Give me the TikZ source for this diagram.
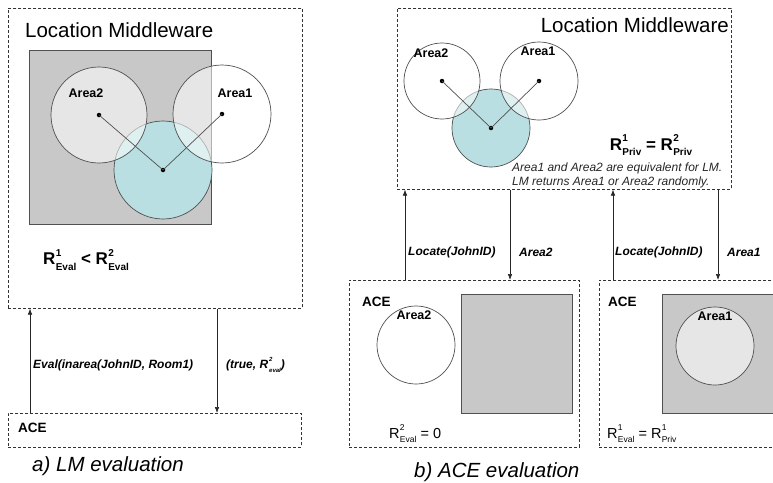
\documentclass[tikz,border=0pt]{standalone}
\usepackage{fontspec}
\setmainfont{Liberation Sans}
\usetikzlibrary{arrows.meta}
\definecolor{boxgray}{HTML}{C8C8C8}
\definecolor{cyanfill}{HTML}{B9DFE2}
\definecolor{edge}{HTML}{505050}
% R with super/subscript
\newcommand\RRx[3][8.5]{R\kern0.3pt\rlap{\raisebox{0.5em}{\fontsize{#1}{#1}\selectfont #2}}\raisebox{-0.32em}{\fontsize{#1}{#1}\selectfont #3}}
\tikzset{
  dashbox/.style={draw=black!80, line width=0.6pt, dash pattern=on 3pt off 2pt, anchor=north west, inner sep=0pt},
  grayrect/.style={draw=edge, fill=boxgray, line width=0.7pt},
  areacirc/.style={draw=edge, fill=white, fill opacity=0.55, line width=0.7pt},
  cyancirc/.style={draw=edge, fill=cyanfill, line width=0.7pt},
  dot/.style={circle, fill=black, inner sep=0pt, minimum size=4.5pt},
  spoke/.style={draw=edge, line width=0.7pt},
  arr/.style={draw=black!85, line width=0.6pt, -{Latex[length=6pt,width=4.5pt]}},
  title/.style={font=\fontsize{20.5}{24}\selectfont, inner sep=0pt},
  arealbl/.style={font=\fontsize{12.5}{15}\selectfont\bfseries, inner sep=0pt},
  msg/.style={font=\fontsize{12}{14}\selectfont\bfseries\itshape, inner sep=0pt, anchor=west},
  acelbl/.style={font=\fontsize{13.5}{16}\selectfont\bfseries, inner sep=0pt, anchor=west},
  formula/.style={font=\fontsize{14.5}{17}\selectfont, inner sep=0pt},
  bigformula/.style={font=\fontsize{17}{20}\selectfont\bfseries, inner sep=0pt},
  caption/.style={font=\fontsize{20.5}{24}\selectfont\itshape, inner sep=0pt, anchor=west},
  note/.style={font=\fontsize{12}{14}\selectfont\itshape, inner sep=0pt, anchor=west, text=black!85},
}
\begin{document}
\begin{tikzpicture}[x=1pt,y=-1pt]
\clip (0,0) rectangle (773,482);
\fill[white] (0,0) rectangle (773,482);

% ================= Panel a =================
\node[dashbox, minimum width=294pt, minimum height=300pt] (lmA) at (8,8) {};
\node[title, anchor=west] (lmAtitle) at (25,30) {Location Middleware};
\draw[grayrect] (29,50) rectangle (211,224);
\draw[cyancirc] (163,170) circle (49);
\draw[areacirc] (99,115) circle (48);
\draw[areacirc] (222,114) circle (49);
\node[dot] (cA) at (163,170) {};
\node[dot] (a2A) at (99,115) {};
\node[dot] (a1A) at (222,114) {};
\draw[spoke] (a2A.center) -- (cA.center) -- (a1A.center);
\node[arealbl] (a2Albl) at (86,93) {Area2};
\node[arealbl] (a1Albl) at (235,93) {Area1};
\node[bigformula, anchor=west] (fA) at (43,260) {\RRx[10]{1}{Eval} < \RRx[10]{2}{Eval}};

\node[dashbox, minimum width=293pt, minimum height=34pt] (aceA) at (8,413) {};
\node[acelbl] (aceAlbl) at (18,428) {ACE};
\coordinate (xA1) at (30,0);
\coordinate (xA2) at (217,0);
\draw[arr] (aceA.north -| xA1) -- (lmA.south -| xA1);
\draw[arr] (lmA.south -| xA2) -- (aceA.north -| xA2);
\node[msg] (evalmsg) at (33,365) {Eval(inarea(JohnID, Room1)};
\node[msg] (truemsg) at (226,365) {(true, R\kern1pt\rlap{\raisebox{0.55em}{\fontsize{6}{6}\selectfont 2}}\raisebox{-0.35em}{\fontsize{6}{6}\selectfont eval})};
\node[caption] (capA) at (32,466) {a) LM evaluation};

% ================= Panel b =================
\node[dashbox, minimum width=334pt, minimum height=181pt] (lmB) at (397,8) {};
\node[title, anchor=east] (lmBtitle) at (729,25) {Location Middleware};
\draw[cyancirc] (491,128) circle (39);
\draw[areacirc] (442,81) circle (38);
\draw[areacirc] (539,81) circle (39);
\node[dot] (cB) at (491,128) {};
\node[dot] (a2B) at (442,81) {};
\node[dot] (a1B) at (539,81) {};
\draw[spoke] (a2B.center) -- (cB.center) -- (a1B.center);
\node[arealbl] (a2Blbl) at (431,53) {Area2};
\node[arealbl] (a1Blbl) at (538,51) {Area1};
\node[bigformula] (fB) at (651,145) {\RRx[10]{1}{Priv} = \RRx[10]{2}{Priv}};
\node[note] (n1) at (512,168) {Area1 and Area2 are equivalent for LM.};
\node[note] (n2) at (512,182) {LM returns Area1 or Area2 randomly.};

% ACE box 1
\node[dashbox, minimum width=230pt, minimum height=167pt] (aceB1) at (349,280) {};
\node[acelbl] (aceB1lbl) at (362,302) {ACE};
\draw[grayrect] (461,294) rectangle (572,413);
\draw[areacirc] (416,345) circle (39);
\node[arealbl] (a2C) at (414,315) {Area2};
\node[formula, anchor=west] (fC) at (389,434) {\RRx{2}{Eval} = 0};

% ACE box 2
\node[dashbox, minimum width=220pt, minimum height=167pt] (aceB2) at (599,280) {};
\node[acelbl] (aceB2lbl) at (608,302) {ACE};
\draw[grayrect] (662,294) rectangle (820,413);
\draw[areacirc] (715,346) circle (39);
\node[arealbl] (a1C) at (715,316) {Area1};
\node[formula, anchor=west] (fD) at (607,434) {\RRx{1}{Eval} = \RRx{1}{Priv}};

\coordinate (xB1) at (405,0);
\coordinate (xB2) at (510,0);
\coordinate (xB3) at (613,0);
\coordinate (xB4) at (718,0);
\draw[arr] (aceB1.north -| xB1) -- (lmB.south -| xB1);
\draw[arr] (lmB.south -| xB2) -- (aceB1.north -| xB2);
\draw[arr] (aceB2.north -| xB3) -- (lmB.south -| xB3);
\draw[arr] (lmB.south -| xB4) -- (aceB2.north -| xB4);
\node[msg] (loc1) at (408,252) {Locate(JohnID)};
\node[msg] (ar2) at (519,252) {Area2};
\node[msg] (loc2) at (615,252) {Locate(JohnID)};
\node[msg] (ar1) at (727,252) {Area1};
\node[caption] (capB) at (414,472) {b) ACE evaluation};
\end{tikzpicture}
\end{document}
